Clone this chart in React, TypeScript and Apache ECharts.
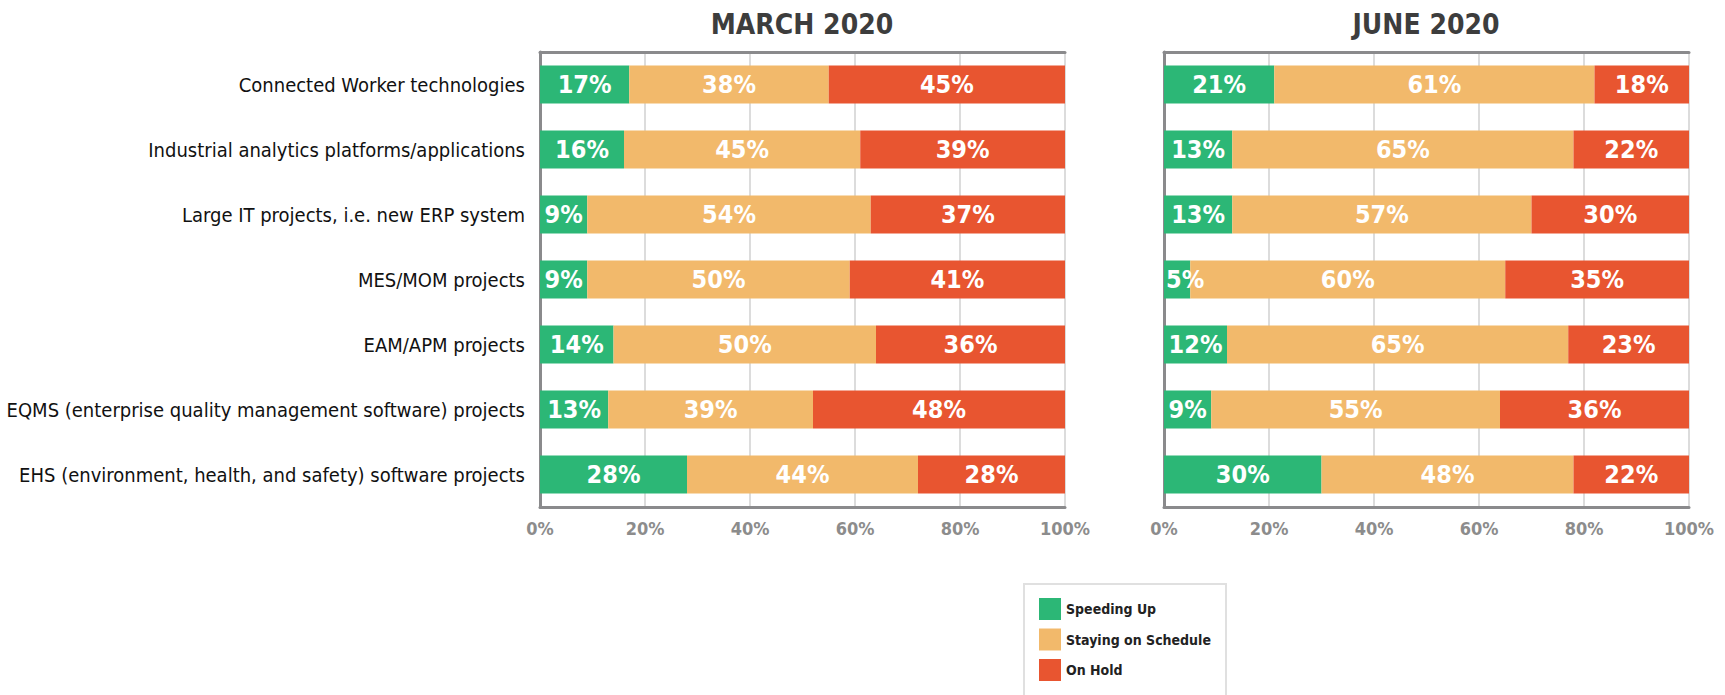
import React, { useEffect, useRef } from "react";
import * as echarts from "echarts";

const categories = [
  "Connected Worker technologies",
  "Industrial analytics platforms/applications",
  "Large IT projects, i.e. new ERP system",
  "MES/MOM projects",
  "EAM/APM projects",
  "EQMS (enterprise quality management software) projects",
  "EHS (environment, health, and safety) software projects",
];

const seriesNames = ["Speeding Up", "Staying on Schedule", "On Hold"];
const seriesColors = ["#2cb776", "#f2b96b", "#e85530"];

const marchSpeeding = [17, 16, 9, 9, 14, 13, 28];
const marchSchedule = [38, 45, 54, 50, 50, 39, 44];
const marchHold = [45, 39, 37, 41, 36, 48, 28];

const juneSpeeding = [21, 13, 13, 5, 12, 9, 30];
const juneSchedule = [61, 65, 57, 60, 65, 55, 48];
const juneHold = [18, 22, 30, 35, 23, 36, 22];

const panelTitles = ["MARCH 2020", "JUNE 2020"];
const xTicks = [0, 20, 40, 60, 80, 100];

const NARROW = "'Liberation Sans Narrow', 'Arial Narrow', 'DejaVu Sans Condensed', sans-serif";

export default function App() {
  const ref = useRef<HTMLDivElement>(null);

  useEffect(() => {
    if (!ref.current) return;
    const chart = echarts.init(ref.current, undefined, { renderer: "svg" });

    const grids = [
      { left: 540, right: 660, top: 52, height: 455, outerBoundsMode: "none", containLabel: false },
      { left: 1164, right: 36, top: 52, height: 455, outerBoundsMode: "none", containLabel: false },
    ];

    const xAxes: any[] = [];
    const yAxes: any[] = [];
    grids.forEach((_, gi) => {
      xAxes.push({
        type: "value",
        gridIndex: gi,
        min: 0,
        max: 100,
        interval: 20,
        position: "bottom",
        axisLine: { show: true, lineStyle: { color: "#8a8a8c", width: 3 } },
        axisTick: { show: false },
        splitLine: { show: true, lineStyle: { color: "#dcdcdc", width: 2 } },
        axisLabel: {
          formatter: (v: number) => (xTicks.includes(v) ? v + "%" : ""),
          color: "#8c8c8c",
          fontFamily: NARROW,
          fontWeight: "bold",
          fontSize: 18,
          margin: 12,
        },
      });
      xAxes.push({
        type: "value",
        gridIndex: gi,
        min: 0,
        max: 100,
        interval: 20,
        position: "top",
        axisLine: { show: true, lineStyle: { color: "#8a8a8c", width: 3 } },
        axisTick: { show: false },
        splitLine: { show: false },
        axisLabel: { show: false },
      });
      yAxes.push({
        type: "category",
        gridIndex: gi,
        data: categories,
        inverse: true,
        axisLine: { show: true, lineStyle: { color: "#8a8a8c", width: 3 } },
        axisTick: { show: false },
        splitLine: { show: false },
        axisLabel:
          gi === 0
            ? {
                show: true,
                color: "#111",
                fontFamily: NARROW,
                fontSize: 20,
                margin: 15,
              }
            : { show: false },
      });
    });

    const panels = [
      [marchSpeeding, marchSchedule, marchHold],
      [juneSpeeding, juneSchedule, juneHold],
    ];

    const series: any[] = [];
    panels.forEach((vals, gi) => {
      vals.forEach((arr, si) => {
        series.push({
          type: "bar",
          name: seriesNames[si],
          xAxisIndex: gi * 2,
          yAxisIndex: gi,
          stack: "panel" + gi,
          barWidth: 38,
          data: arr.map((v) =>
            v < 8 ? { value: v, label: { position: "insideLeft", distance: 2 } } : v
          ),
          itemStyle: { color: seriesColors[si] },
          label: {
            show: true,
            position: "inside",
            formatter: "{c}%",
            color: "#ffffff",
            fontFamily: NARROW,
            fontWeight: "bold",
            fontSize: 25,
          },
          emphasis: { disabled: true },
        });
      });
    });

    chart.setOption({
      animation: false,
      title: [
        {
          text: panelTitles[0],
          left: 802,
          top: 10,
          padding: 0,
          textAlign: "center",
          textStyle: { fontFamily: NARROW, fontWeight: "bold", fontSize: 28, color: "#3d3d3d" },
        },
        {
          text: panelTitles[1],
          left: 1426,
          top: 10,
          padding: 0,
          textAlign: "center",
          textStyle: { fontFamily: NARROW, fontWeight: "bold", fontSize: 28, color: "#3d3d3d" },
        },
      ],
      grid: grids,
      xAxis: xAxes,
      yAxis: yAxes,
      legend: {
        data: seriesNames,
        orient: "vertical",
        left: 1039,
        top: 598,
        padding: 0,
        icon: "rect",
        itemWidth: 22,
        itemHeight: 22,
        itemGap: 8.5,
        selectedMode: false,
        textStyle: { fontFamily: NARROW, fontWeight: "bold", fontSize: 14, color: "#222" },
      },
      graphic: [
        {
          type: "rect",
          shape: { x: 1024, y: 584, width: 202, height: 140 },
          style: { fill: "none", stroke: "#e0e0e0", lineWidth: 2 },
          silent: true,
          z: -1,
        },
      ],
      series,
    });

    return () => chart.dispose();
  }, []);

  return (
    <div
      ref={ref}
      style={{ position: "fixed", left: 0, top: 0, width: 1725, height: 695, background: "#fff" }}
    />
  );
}
